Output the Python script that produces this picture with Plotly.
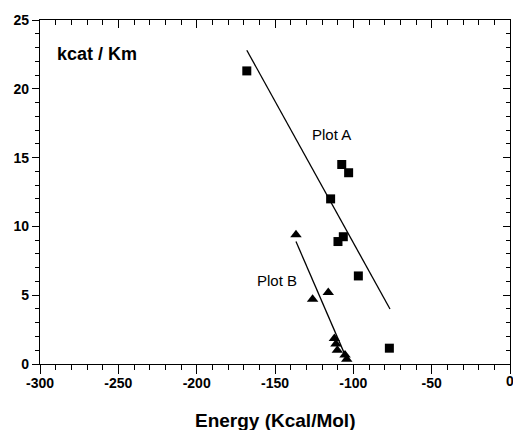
import plotly.graph_objects as go

# Plot A (squares)
a_energy = [-168, -107.4, -103.0, -114.5, -106.4, -109.8, -96.8, -77]
a_kcat_km = [21.3, 14.5, 13.9, 12.0, 9.25, 8.9, 6.4, 1.15]
# Plot B (triangles)
b_energy = [-136.6, -116, -126, -112.1, -111.1, -110.2, -105.3, -104.2]
b_kcat_km = [9.4, 5.2, 4.7, 1.85, 1.45, 1.0, 0.65, 0.35]
# fitted lines (endpoints)
fit_a_x = [-168, -76.6]
fit_a_y = [22.8, 4.0]
fit_b_x = [-136.6, -104.7]
fit_b_y = [8.9, 0.5]

x_ticks = [-300, -250, -200, -150, -100, -50, 0]
x_tick_labels = ["-300", "-250", "-200", "-150", "-100", "-50", "0"]
y_ticks = [0, 5, 10, 15, 20, 25]
y_tick_labels = ["0", "5", "10", "15", "20", "25"]

FONT = "Liberation Sans, Arial, sans-serif"

fig = go.Figure()
fig.add_trace(go.Scatter(x=fit_a_x, y=fit_a_y, mode="lines",
                         line=dict(color="black", width=1.3), showlegend=False))
fig.add_trace(go.Scatter(x=fit_b_x, y=fit_b_y, mode="lines",
                         line=dict(color="black", width=1.3), showlegend=False))
fig.add_trace(go.Scatter(x=a_energy, y=a_kcat_km, mode="markers",
                         marker=dict(symbol="square", size=9, color="black"),
                         showlegend=False))
fig.add_trace(go.Scatter(x=b_energy, y=b_kcat_km, mode="markers",
                         marker=dict(symbol="triangle-up", size=10, color="black"),
                         showlegend=False))
# helper trace for mirrored inward-tick axes
fig.add_trace(go.Scatter(x=[], y=[], xaxis="x2", yaxis="y2", showlegend=False))

fig.add_annotation(x=0.032, y=0.9, xref="paper", yref="paper", text="<b>kcat / Km</b>",
                   showarrow=False, xanchor="left", yanchor="middle",
                   font=dict(family=FONT, size=18, color="black"))
fig.add_annotation(x=0.5, y=-0.163, xref="paper", yref="paper",
                   text="<b>Energy (Kcal/Mol)</b>", showarrow=False,
                   xanchor="center", yanchor="middle",
                   font=dict(family=FONT, size=19, color="black"))
fig.add_annotation(x=-114, y=16.7, text="Plot A", showarrow=False,
                   font=dict(family=FONT, size=15, color="black"))
fig.add_annotation(x=-148.5, y=6.05, text="Plot B", showarrow=False,
                   font=dict(family=FONT, size=15, color="black"))
# the last x tick label sits on the page edge (partly cut, as in the reference)
fig.add_annotation(x=x_ticks[-1], y=0, yref="paper", yshift=-17, text="<b>0</b>",
                   showarrow=False, xanchor="center", yanchor="middle",
                   font=dict(family=FONT, size=14, color="black"))

common_font = dict(family=FONT, size=14, color="black", weight="bold")

fig.update_layout(
    width=513, height=430,
    margin=dict(l=40, r=3, t=20, b=66, autoexpand=False),
    paper_bgcolor="white", plot_bgcolor="white",
    xaxis=dict(range=[-300, 0], tickvals=x_ticks, ticktext=x_tick_labels,
               ticks="outside", ticklen=9, ticklabelstandoff=-3,
               tickwidth=1.2, tickcolor="black", showline=True, linecolor="black",
               linewidth=1.2, showgrid=False, zeroline=False, tickfont=common_font,
               minor=dict(dtick=10, ticks="outside", ticklen=5, tickcolor="black")),
    yaxis=dict(range=[0, 25], tickvals=y_ticks, ticktext=y_tick_labels,
               ticks="outside", ticklen=7,
               tickwidth=1.2, tickcolor="black", showline=True, linecolor="black",
               linewidth=1.2, showgrid=False, zeroline=False, tickfont=common_font,
               minor=dict(dtick=1, ticks="outside", ticklen=4, tickcolor="black")),
    xaxis2=dict(range=[-300, 0], overlaying="x", side="top", tickvals=x_ticks,
                ticks="inside", ticklen=8, tickcolor="black", showticklabels=False,
                showline=True, linecolor="black", linewidth=1.2, showgrid=False,
                zeroline=False,
                minor=dict(dtick=10, ticks="inside", ticklen=5, tickcolor="black")),
    yaxis2=dict(range=[0, 25], overlaying="y", side="right", tickvals=y_ticks,
                ticks="inside", ticklen=7, tickcolor="black", showticklabels=False,
                showline=True, linecolor="black", linewidth=1.2, showgrid=False,
                zeroline=False,
                minor=dict(dtick=1, ticks="inside", ticklen=4, tickcolor="black")),
)

fig.write_html("out.html", config={"displayModeBar": False},
               post_script="document.body.style.margin='0';document.body.style.overflow='hidden';")
